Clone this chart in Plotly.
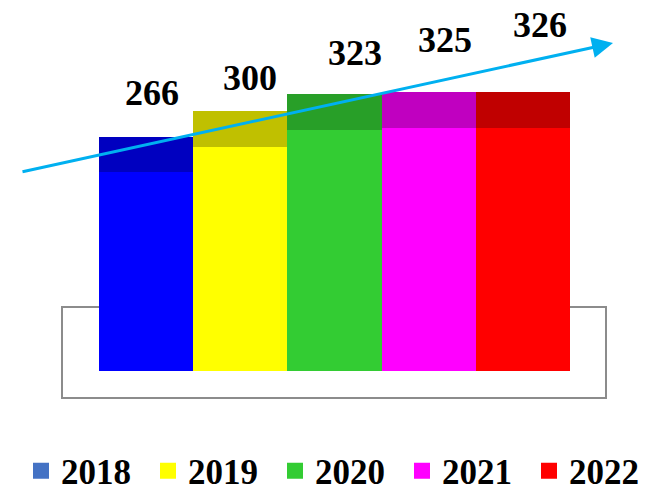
import plotly.graph_objects as go

YEARS = ["2018", "2019", "2020", "2021", "2022"]
VALUES = [266, 300, 323, 325, 326]

FRONT_COLORS = ["#0000FF", "#FFFF00", "#33CC33", "#FF00FF", "#FF0000"]
TOP_COLORS = ["#0000C0", "#C0C000", "#289F28", "#C000C0", "#C00000"]
LEGEND_COLORS = ["#4472C4", "#FFFF00", "#33CC33", "#FF00FF", "#FF0000"]

DEPTH = 48  # darker "top face" of the pseudo-3D bars, in value units
LABEL_XSHIFT = [6, 10, 20, 16, 17]   # px
LABEL_YSHIFT = [44, 33, 41, 52, 67]  # px above the bar top

FONT = "Liberation Serif"
W, H = 647, 488

fig = go.Figure()

# front faces
fig.add_trace(go.Bar(
    x=YEARS, y=VALUES,
    marker=dict(color=FRONT_COLORS, line=dict(width=0)),
    width=1, showlegend=False, hoverinfo="skip",
))
# top faces
fig.add_trace(go.Bar(
    x=YEARS, y=[DEPTH] * len(YEARS),
    marker=dict(color=TOP_COLORS, line=dict(width=0)),
    width=1, showlegend=False, hoverinfo="skip",
))

# legend entries (legend colours differ from the bars in the original)
for year, col in zip(YEARS, LEGEND_COLORS):
    fig.add_trace(go.Scatter(
        x=[None], y=[None], mode="markers", name=year,
        marker=dict(symbol="square", size=16, color=col),
    ))

# value labels
for i, v in enumerate(VALUES):
    fig.add_annotation(
        x=i, y=v + DEPTH, text=str(v), showarrow=False,
        xshift=LABEL_XSHIFT[i], yshift=LABEL_YSHIFT[i], yanchor="middle",
        font=dict(family=FONT, size=36, color="black", weight="bold"),
    )

# trend arrow
fig.add_annotation(
    xref="paper", yref="paper", axref="pixel", ayref="pixel",
    x=605 / W, y=1 - 35 / H, ax=-592, ay=129,
    text="", showarrow=True, arrowhead=2, arrowsize=1.4, arrowwidth=3,
    arrowcolor="#00B0F0", standoff=0,
)

# floor frame
fig.add_shape(
    type="rect", xref="paper", yref="paper",
    x0=54 / W, x1=598 / W, y0=(H - 390) / H, y1=(H - 299) / H,
    line=dict(color="#8C8C8C", width=2), layer="below",
)

fig.update_layout(
    width=W, height=H,
    margin=dict(l=0, r=0, t=0, b=0, autoexpand=False),
    paper_bgcolor="white", plot_bgcolor="white",
    barmode="stack", bargap=0,
    xaxis=dict(visible=False, type="category", range=[-1.464, 5.400]),
    yaxis=dict(visible=False, range=[-167.4, 486.1]),
    legend=dict(
        orientation="h", x=13 / W, xanchor="left",
        y=(H - 463) / H, yanchor="middle", traceorder="normal",
        bgcolor="rgba(0,0,0,0)", entrywidth=82, itemclick=False,
        font=dict(family=FONT, size=35, color="black", weight="bold"),
    ),
    showlegend=True,
)

fig.write_html("out.html")
